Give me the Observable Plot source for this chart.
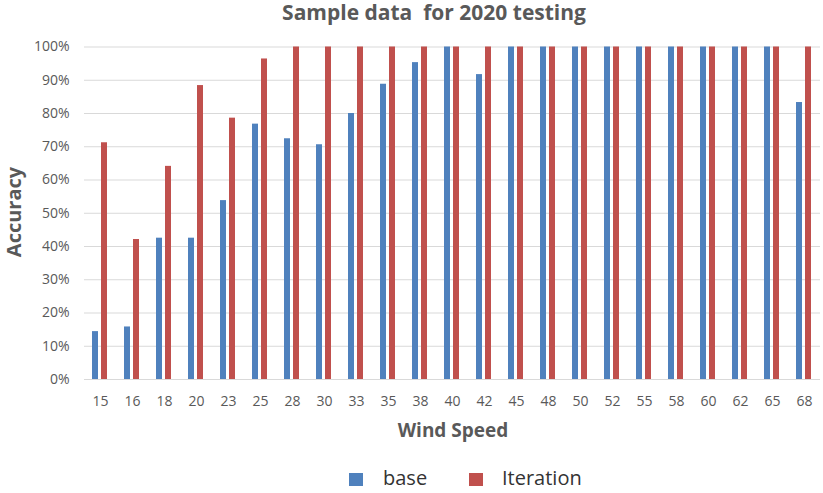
<!DOCTYPE html>
<html>
<head>
<meta charset="utf-8">
<script src="https://cdn.jsdelivr.net/npm/d3@7"></script>
<script src="https://cdn.jsdelivr.net/npm/@observablehq/plot@0.6"></script>
<style>
  html, body { margin: 0; padding: 0; background: #fff; }
  #wrap { position: relative; width: 823px; height: 493px; font-family: "Open Sans", sans-serif; }
  #title { position: absolute; left: 434px; top: 13px; transform: translate(-50%, -50%); white-space: pre;
           font-size: 21px; line-height: 1.2; font-weight: bold; color: #595959; }
  #chart { position: absolute; left: 0; top: 30px; }
  .ylab { position: absolute; left: 13.5px; top: 211.5px; transform: translate(-50%, -50%) rotate(-90deg);
          font-size: 20px; line-height: 1.2; font-weight: bold; color: #595959; white-space: nowrap; }
  .xlab { position: absolute; left: 453px; top: 430px; transform: translate(-50%, -50%);
          font-size: 19px; line-height: 1.2; font-weight: bold; color: #595959; white-space: nowrap; }
  .sw { position: absolute; width: 14px; height: 13px; top: 473px; }
  .lt { position: absolute; top: 478px; transform: translateY(-50%); font-size: 20px; line-height: 1; color: #333; white-space: nowrap; }
</style>
</head>
<body>
<div id="wrap">
  <div id="title">Sample data  for 2020 testing</div>
  <div id="chart"></div>
  <div class="ylab">Accuracy</div>
  <div class="xlab">Wind Speed</div>
  <div id="legend"></div>
</div>
<script>
const speeds = ["15","16","18","20","23","25","28","30","33","35","38","40","42","45","48","50","52","55","58","60","62","65","68"];
const baseValues = [0.144,0.158,0.425,0.425,0.538,0.768,0.724,0.706,0.80,0.888,0.953,1,0.917,1,1,1,1,1,1,1,1,1,0.833];
const iterationValues = [0.712,0.421,0.641,0.884,0.786,0.964,1,1,1,1,1,1,1,1,1,1,1,1,1,1,1,1,1];
const seriesNames = ["base", "Iteration"];
const seriesColors = ["#4F81BD", "#C0504D"];
const yTicks = [0,0.1,0.2,0.3,0.4,0.5,0.6,0.7,0.8,0.9,1];

const rows = [];
speeds.forEach((s, i) => {
  rows.push({speed: s, series: seriesNames[0], value: baseValues[i]});
  rows.push({speed: s, series: seriesNames[1], value: iterationValues[i]});
});

const chart = Plot.plot({
  width: 823,
  height: 418,
  marginTop: 16.5,
  marginBottom: 69,
  marginLeft: 83,
  marginRight: 2,
  style: {fontFamily: "'Open Sans', sans-serif", fontSize: "14px", color: "#595959", background: "white"},
  fx: {domain: speeds, padding: 0, label: null},
  x: {domain: seriesNames, paddingInner: 0.3, paddingOuter: 0.755, axis: null},
  y: {domain: [0, 1], label: null},
  color: {domain: seriesNames, range: seriesColors},
  marks: [
    Plot.gridY(yTicks, {stroke: "#d9d9d9", strokeOpacity: 1}),
    Plot.axisY(yTicks, {tickFormat: d3.format(".0%"), tickSize: 0, tickPadding: 15, fontSize: 14, label: null, fill: "#595959"}),
    Plot.axisFx({anchor: "bottom", tickSize: 0, tickPadding: 17, fontSize: 14, label: null, fill: "#595959"}),
    Plot.barY(rows, {fx: "speed", x: "series", y: "value", fill: "series"})
  ]
});
document.getElementById("chart").appendChild(chart);

const legend = document.getElementById("legend");
const legendPos = [{sw: 349, tx: 383}, {sw: 469, tx: 502}];
seriesNames.forEach((name, i) => {
  const sw = document.createElement("div");
  sw.className = "sw";
  sw.style.left = legendPos[i].sw + "px";
  sw.style.background = seriesColors[i];
  legend.appendChild(sw);
  const t = document.createElement("div");
  t.className = "lt";
  t.style.left = legendPos[i].tx + "px";
  t.textContent = name;
  legend.appendChild(t);
});
</script>
</body>
</html>
